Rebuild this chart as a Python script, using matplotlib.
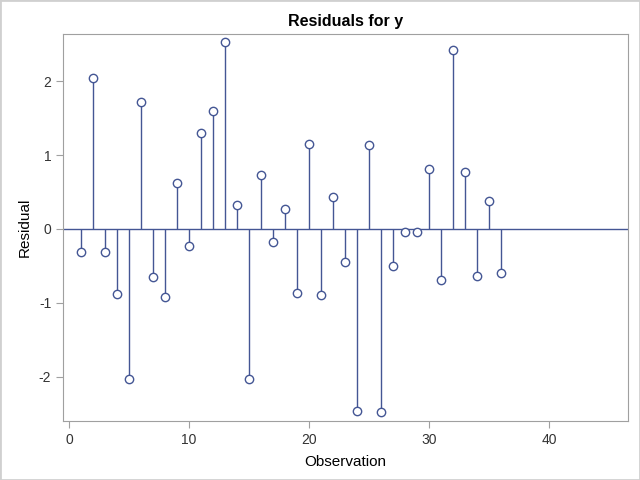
import numpy as np
import matplotlib.pyplot as plt

plt.rcParams['font.family'] = ['Liberation Sans', 'DejaVu Sans']
plt.rcParams['axes.unicode_minus'] = False

# residuals
observation = list(range(1, 37))
residual = [-0.31, 2.04, -0.31, -0.88, -2.03, 1.72, -0.65, -0.92, 0.62, -0.23,
            1.30, 1.59, 2.53, 0.32, -2.03, 0.73, -0.18, 0.27, -0.86, 1.15,
            -0.89, 0.43, -0.45, -2.46, 1.14, -2.47, -0.50, -0.04, -0.04, 0.81,
            -0.69, 2.42, 0.77, -0.64, 0.38, -0.59]
xticks = [0, 10, 20, 30, 40]
yticks = [-2, -1, 0, 1, 2]

line_col = '#445694'
frame_col = '#a0a0a0'

fig = plt.figure(figsize=(6.4, 4.8), dpi=100)
ax = fig.add_axes([0.0984, 0.123, 0.8828, 0.806])

ax.axhline(0, color=line_col, lw=1, zorder=1)
ax.vlines(observation, 0, residual, color=line_col, lw=1, zorder=2)
ax.plot(observation, residual, 'o', ms=6, mfc='white', mec=line_col, mew=1, zorder=3)

ax.set_xlim(-0.5, 46.58)
ax.set_ylim(-2.595, 2.635)
ax.set_xticks(xticks)
ax.set_yticks(yticks)
ax.set_xlabel('Observation', fontsize=11, labelpad=6)
ax.set_ylabel('Residual', fontsize=11, labelpad=5)
ax.set_title('Residuals for y', fontsize=11.5, fontweight='bold', pad=6)

for s in ax.spines.values():
    s.set_color(frame_col)
ax.tick_params(colors=frame_col, labelcolor='#333333', labelsize=10, length=5)

# light border round the whole picture
fig.patches.append(plt.Rectangle((0, 0), 1, 1, transform=fig.transFigure,
                                 fill=False, ec='#d0d0d0', lw=2))

fig.savefig('out.png', dpi=100)
